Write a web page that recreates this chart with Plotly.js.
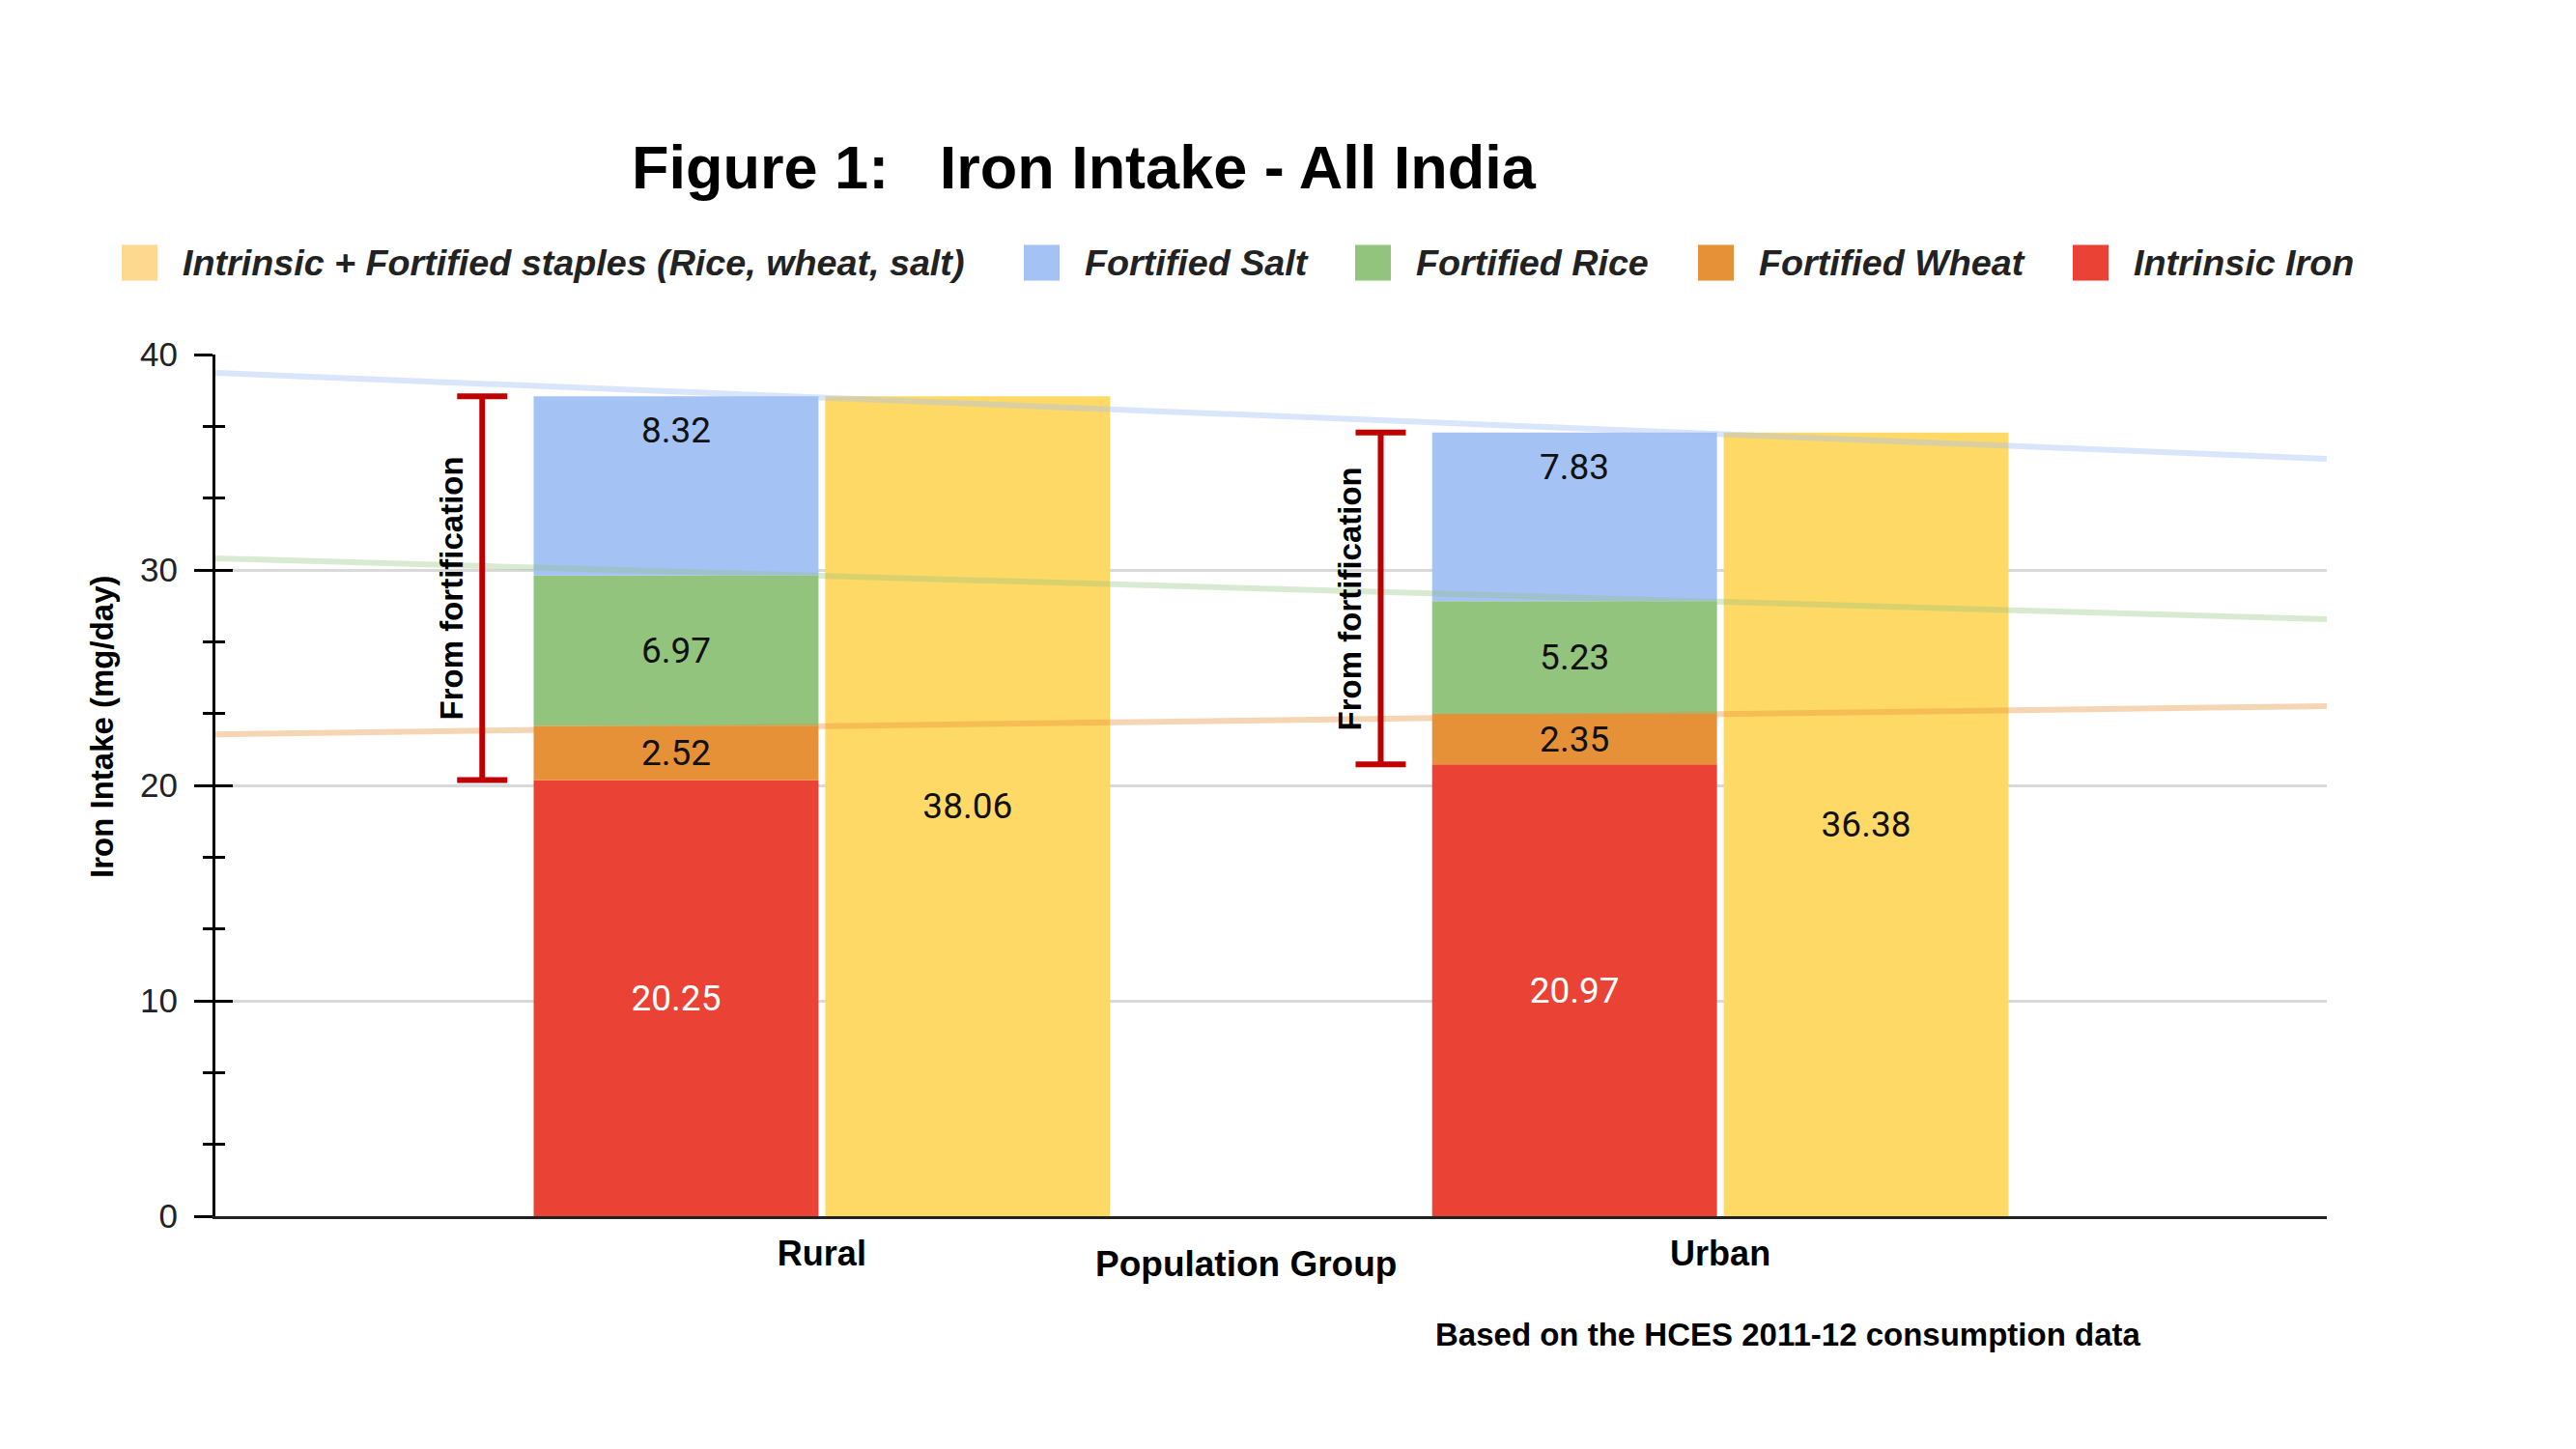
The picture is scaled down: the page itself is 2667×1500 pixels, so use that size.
<!DOCTYPE html>
<html>
<head>
<meta charset="utf-8">
<script src="https://cdn.plot.ly/plotly-3.0.1.min.js"></script>
<style>
html, body { margin: 0; padding: 0; background: #ffffff; }
#chart { width: 2667px; height: 1500px; }
</style>
</head>
<body>
<div id="chart"></div>
<script>
// ---------------- DATA ----------------
const categories = ['Rural', 'Urban'];
const intrinsicIron = [20.25, 20.97];
const fortifiedWheat = [2.52, 2.35];
const fortifiedRice = [6.97, 5.23];
const fortifiedSalt = [8.32, 7.83];
const intrinsicPlusFortified = [38.06, 36.38];
// faint trend lines across the plot (value at left edge, value at right edge)
const saltTrend = [39.15, 35.16];
const riceTrend = [30.54, 27.71];
const wheatTrend = [22.37, 23.68];
const seriesNames = [
  'Intrinsic + Fortified staples (Rice, wheat, salt)',
  'Fortified Salt',
  'Fortified Rice',
  'Fortified Wheat',
  'Intrinsic Iron'
];
const yTickValues = [0, 10, 20, 30, 40];
const titleText = 'Figure 1:\u00A0\u00A0\u00A0Iron Intake - All India';
const yTitleText = 'Iron Intake (mg/day)';
const xTitleText = 'Population Group';
const bracketText = 'From fortification';
const sourceText = 'Based on the HCES 2011-12 consumption data';

// ---------------- STYLE / LAYOUT CONSTANTS ----------------
const W = 2667, H = 1500;
const M = { l: 223, r: 258, t: 367, b: 241 };
const plotW = W - M.l - M.r, plotH = H - M.t - M.b;
const px2x = p => (p - M.l) / plotW;
const px2y = p => (H - M.b - p) / plotH;
const SANS = 'Liberation Sans, Arial, Helvetica, sans-serif';
const NUMFONT = 'Roboto, Liberation Sans, Arial, sans-serif';
const COLORS = {
  total: '#ffd966',
  salt: '#a4c2f4',
  rice: '#93c47d',
  wheat: '#e69138',
  intrinsic: '#ea4335'
};
const legendColors = ['#fcd98e', COLORS.salt, COLORS.rice, COLORS.wheat, COLORS.intrinsic];
const legendSwatchX = [126, 1060, 1403, 1758, 2146];
const legendY = 272, swatch = 37;
const xRange = [-0.675, 1.675];
const BARGAP = 0.351, BARGROUPGAP = 0.023;
const stackCenterOffset = -(1 - BARGAP) / 4;
const bracketOffset = -0.378;
const bracketTextOffset = -0.412;
const LABEL_SIZE = 37;

// ---------------- DERIVED ----------------
const xIdx = categories.map((c, i) => i);
const wheatBase = intrinsicIron.slice();
const riceBase = intrinsicIron.map((v, i) => v + fortifiedWheat[i]);
const saltBase = riceBase.map((v, i) => v + fortifiedRice[i]);
const fortificationTotal = intrinsicPlusFortified.map((v, i) => v - intrinsicIron[i]);
const fmt = arr => arr.map(v => v.toFixed(2));

function stackBar(name, y, base, color, textColor, textpos) {
  return {
    type: 'bar', name: name, x: xIdx, y: y, base: base,
    offsetgroup: 'components',
    marker: { color: color, line: { width: 0 } },
    text: fmt(y), texttemplate: '%{text}',
    textposition: textpos, insidetextanchor: 'middle', constraintext: 'none',
    textfont: { family: NUMFONT, size: LABEL_SIZE, color: textColor },
    showlegend: false,
    hovertemplate: '%{fullData.name}: %{text}<extra></extra>'
  };
}

const traces = [
  stackBar(seriesNames[4], intrinsicIron, xIdx.map(() => 0), COLORS.intrinsic, '#ffffff', 'inside'),
  stackBar(seriesNames[3], fortifiedWheat, wheatBase, COLORS.wheat, '#111111', 'inside'),
  stackBar(seriesNames[2], fortifiedRice, riceBase, COLORS.rice, '#111111', 'inside'),
  stackBar(seriesNames[1], fortifiedSalt, saltBase, COLORS.salt, '#111111', 'none'),
  {
    type: 'bar', name: seriesNames[0], x: xIdx, y: intrinsicPlusFortified,
    base: xIdx.map(() => 0),
    offsetgroup: 'total',
    marker: { color: COLORS.total, line: { width: 0 } },
    text: fmt(intrinsicPlusFortified), texttemplate: '%{text}',
    textposition: 'inside', insidetextanchor: 'middle', constraintext: 'none',
    textfont: { family: NUMFONT, size: LABEL_SIZE, color: '#111111' },
    showlegend: false,
    hovertemplate: '%{fullData.name}: %{text}<extra></extra>'
  },
  // faint trend lines
  { type: 'scatter', mode: 'lines', x: xRange, y: saltTrend, showlegend: false, hoverinfo: 'skip',
    line: { color: 'rgba(164,194,244,0.42)', width: 6 } },
  { type: 'scatter', mode: 'lines', x: xRange, y: riceTrend, showlegend: false, hoverinfo: 'skip',
    line: { color: 'rgba(147,196,125,0.35)', width: 6 } },
  { type: 'scatter', mode: 'lines', x: xRange, y: wheatTrend, showlegend: false, hoverinfo: 'skip',
    line: { color: 'rgba(230,145,56,0.38)', width: 6 } },
  // "From fortification" brackets
  {
    type: 'scatter', mode: 'markers', name: bracketText,
    x: xIdx.map(i => i + bracketOffset), y: intrinsicIron, yaxis: 'y2',
    marker: { size: 1, color: 'rgba(0,0,0,0)' },
    error_y: {
      type: 'data', symmetric: false, array: fortificationTotal,
      arrayminus: xIdx.map(() => 0), color: '#c00000', thickness: 6, width: 26
    },
    showlegend: false, hoverinfo: 'skip'
  }
];

const annotations = [];
// salt labels, placed near the top of the salt segment
xIdx.forEach(i => {
  annotations.push({
    xref: 'x', yref: 'y', x: i + stackCenterOffset, y: saltBase[i] + fortifiedSalt[i],
    text: fortifiedSalt[i].toFixed(2), showarrow: false,
    xanchor: 'center', yanchor: 'top', yshift: -12,
    font: { family: NUMFONT, size: LABEL_SIZE, color: '#111111' }
  });
});
// bracket labels
xIdx.forEach(i => {
  annotations.push({
    xref: 'x', yref: 'y', x: i + bracketTextOffset,
    y: (intrinsicIron[i] + intrinsicPlusFortified[i]) / 2,
    text: bracketText, textangle: -90, showarrow: false,
    xanchor: 'center', yanchor: 'middle',
    font: { family: SANS, size: 33, color: '#000000', weight: 'bold' }
  });
});
// custom legend
const shapes = [];
seriesNames.forEach((n, k) => {
  shapes.push({
    type: 'rect', xref: 'paper', yref: 'paper', layer: 'above',
    x0: px2x(legendSwatchX[k]), x1: px2x(legendSwatchX[k] + swatch),
    y0: px2y(legendY + swatch / 2), y1: px2y(legendY - swatch / 2),
    fillcolor: legendColors[k], line: { width: 0 }
  });
  annotations.push({
    xref: 'paper', yref: 'paper', x: px2x(legendSwatchX[k] + swatch + 24), y: px2y(legendY),
    xanchor: 'left', yanchor: 'middle', showarrow: false,
    text: n,
    font: { family: SANS, size: 37.7, color: '#222222', weight: 'bold', style: 'italic' }
  });
});
// y axis title
annotations.push({
  xref: 'paper', yref: 'paper', x: px2x(105), y: px2y(752),
  xanchor: 'center', yanchor: 'middle', showarrow: false, textangle: -90,
  text: yTitleText, font: { family: SANS, size: 33, color: '#000000', weight: 'bold' }
});
// x axis title
annotations.push({
  xref: 'paper', yref: 'paper', x: px2x(1290), y: px2y(1308),
  xanchor: 'center', yanchor: 'middle', showarrow: false,
  text: xTitleText, font: { family: SANS, size: 37, color: '#000000', weight: 'bold' }
});
// source note
annotations.push({
  xref: 'paper', yref: 'paper', x: px2x(1851), y: px2y(1381),
  xanchor: 'center', yanchor: 'middle', showarrow: false,
  text: sourceText, font: { family: SANS, size: 33, color: '#000000', weight: 'bold' }
});

const layout = {
  width: W, height: H,
  margin: { l: M.l, r: M.r, t: M.t, b: M.b, pad: 0 },
  paper_bgcolor: '#ffffff', plot_bgcolor: 'rgba(0,0,0,0)',
  showlegend: false,
  barmode: 'group', bargap: BARGAP, bargroupgap: BARGROUPGAP,
  title: {
    text: titleText, xref: 'container', yref: 'container',
    x: 1122 / W, xanchor: 'center', y: 1 - 173 / H, yanchor: 'middle',
    font: { family: SANS, size: 63, color: '#000000', weight: 'bold' }
  },
  xaxis: {
    type: 'linear', range: xRange, tickvals: xIdx, ticktext: categories,
    showgrid: false, zeroline: false, showline: true, linecolor: '#222222', linewidth: 3,
    ticks: '', ticklabelstandoff: 5,
    tickfont: { family: SANS, size: 36, color: '#000000', weight: 'bold' },
    fixedrange: true
  },
  yaxis: {
    range: [0, 40], tickvals: yTickValues, ticks: 'outside', ticklen: 19, tickwidth: 3, tickcolor: '#000000',
    showline: true, linecolor: '#000000', linewidth: 3,
    showgrid: true, gridcolor: '#d9d9d9', gridwidth: 3, zeroline: false,
    ticklabelstandoff: 10,
    tickfont: { family: SANS, size: 35, color: '#222222' },
    minor: { dtick: 10 / 3, tick0: 0, ticks: 'outside', ticklen: 10, tickwidth: 3, tickcolor: '#000000', showgrid: false },
    fixedrange: true
  },
  yaxis2: {
    overlaying: 'y', anchor: 'x', side: 'left', range: [0, 40], tickvals: yTickValues,
    ticks: 'inside', ticklen: 18, tickwidth: 3, tickcolor: '#000000',
    showticklabels: false, showgrid: false, showline: false, zeroline: false,
    minor: { dtick: 10 / 3, tick0: 0, ticks: 'inside', ticklen: 10, tickwidth: 3, tickcolor: '#000000', showgrid: false },
    fixedrange: true
  },
  shapes: shapes,
  annotations: annotations
};

Plotly.newPlot('chart', traces, layout, { displayModeBar: false, responsive: false });
</script>
</body>
</html>
